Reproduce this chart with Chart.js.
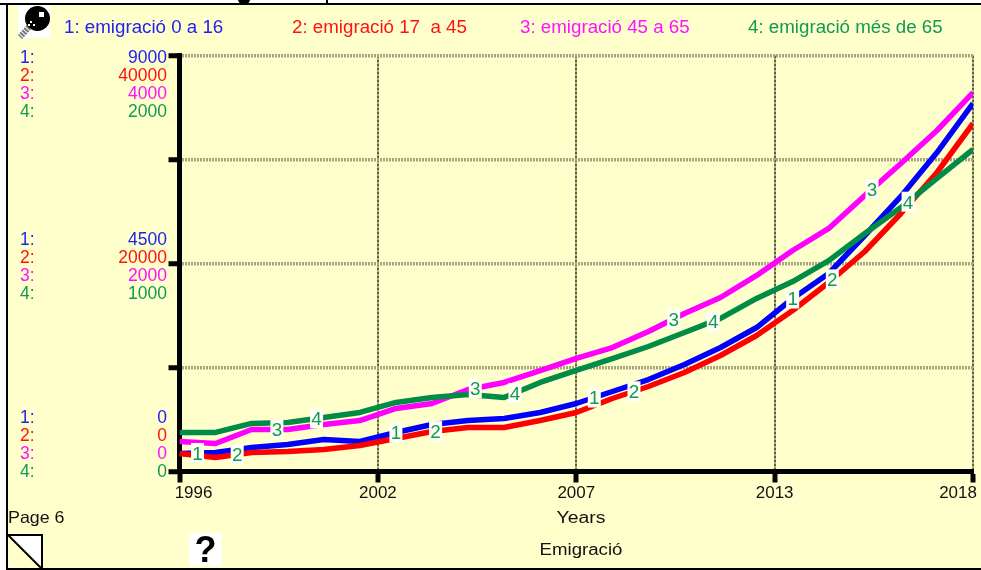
<!DOCTYPE html>
<html><head><meta charset="utf-8">
<style>html,body{margin:0;padding:0;background:#fff}canvas{display:block}</style>
<script src="https://cdn.jsdelivr.net/npm/chart.js@4"></script>
</head><body><div style="width:981px;height:570px"><canvas id="c" width="981" height="570"></canvas></div>
<script>
const years=[1996,1997,1998,1999,2000,2001,2002,2003,2004,2005,2006,2007,2008,2009,2010,2011,2012,2013,2014,2015,2016,2017,2018];
const emig0a16=[389,411,519,584,692,649,844,1017,1103,1147,1276,1471,1731,1990,2315,2683,3115,3743,4284,5106,5950,6901,7962];
const emig17a45=[1731,1346,1827,1923,2115,2500,3173,3846,4231,4231,4904,5673,7019,8173,9519,11154,13077,15481,18173,21154,24808,28750,33462];
const emig45a65=[288,269,404,404,452,490,606,654,788,856,971,1087,1192,1346,1519,1673,1885,2125,2337,2654,2962,3279,3644];
const emigMes65=[188,188,231,236,260,284,332,356,370,356,428,486,543,601,668,736,832,913,1014,1144,1269,1409,1548];
const seriesNames=['1: emigració 0 a 16','2: emigració 17  a 45','3: emigració 45 a 65','4: emigració més de 65'];
const seriesColors=['#0000FF','#FF0000','#FF00FF','#008C46'];
const textColors=['#2222EE','#FF1111','#FF11FF','#119955'];
const axisMax=[9000,40000,4000,2000];
const axisTop=['9000','40000','4000','2000'];
const axisMid=['4500','20000','2000','1000'];
const axisLow=['0','0','0','0'];
const xTickValues=[1996,2001.5,2007,2012.5,2018];
const xTickLabels=['1996','2002','2007','2013','2018'];
const labelYears=[[1996.5,2002,2007.5,2013],[1997.6,2003.1,2008.6,2014.1],[1998.7,2004.2,2009.7,2015.2],[1999.8,2005.3,2010.8,2016.2]];
const BG='#FFFFCC';
const F='"Liberation Sans", Arial, sans-serif';
function T(c,text,x,y,align,sx,size){
  c.save();c.font=(size||16)+'px '+F;c.textAlign=align;c.textBaseline='middle';
  c.translate(x,y);c.scale(sx,1);c.fillText(text,0,0);c.restore();
}
const deco={id:'deco',
 beforeDraw(ch){const c=ch.ctx;c.save();
  c.fillStyle='#fff';c.fillRect(0,0,981,570);
  c.fillStyle=BG;c.fillRect(7,4,974,565);
  c.fillStyle='#000';c.fillRect(0,3,981,2);c.fillRect(6,3,2,567);c.fillRect(6,568,975,2);
  c.beginPath();c.arc(244,-1,6,0,Math.PI);c.fill();c.fillRect(326,0,2,4);
  c.fillStyle='#fff';c.fillRect(18,5,32,33);
  c.strokeStyle='#777';c.lineWidth=6;c.setLineDash([2,1]);c.beginPath();c.moveTo(29,27);c.lineTo(20,37);c.stroke();c.setLineDash([]);
  c.fillStyle='#000';c.beginPath();c.arc(37.5,18.5,12.5,0,7);c.fill();
  c.fillStyle='#fff';c.fillRect(39,12,5,5);c.fillRect(30,21,2,2);c.fillRect(33,24,2,2);c.fillRect(28,24,2,2);
  c.fillStyle='#fff';c.fillRect(189,533,33,33);
  c.beginPath();c.moveTo(8,535);c.lineTo(42,535);c.lineTo(42,569);c.closePath();c.fill();
  c.strokeStyle='#000';c.lineWidth=2;c.beginPath();c.moveTo(8,535);c.lineTo(42,535);c.lineTo(42,569);c.moveTo(8,535);c.lineTo(42,569);c.stroke();
  c.restore();
 },
 afterDatasetsDraw(ch){const c=ch.ctx;c.save();
  labelYears.forEach((ys,si)=>{
    const vals=ch.data.datasets[si].data, sc=ch.scales['y'+(si+1)], xs=ch.scales.x;
    ys.forEach(yr=>{
      const k=Math.min(Math.floor(yr-1996),21), f=yr-1996-k;
      const py=sc.getPixelForValue(vals[k].y*(1-f)+vals[k+1].y*f), px=xs.getPixelForValue(yr);
      c.fillStyle='#FFFFF4';c.fillRect(px-6.5,py-10,13,20);
      c.fillStyle='#119955';T(c,String(si+1),px,py+2,'center',1.05,18);
    });
  });
  c.restore();
 },
 afterDraw(ch){const c=ch.ctx;c.save();
  const x=ch.scales.x, y1=ch.scales.y1;
  const lx=[64,292,520,748];
  seriesNames.forEach((s,i)=>{c.fillStyle=textColors[i];T(c,s,lx[i],28.5,'left',1.07,17.5);});
  const blocks=[[axisTop,y1.getPixelForValue(9000)+3],[axisMid,y1.getPixelForValue(4500)-23],[axisLow,y1.getPixelForValue(0)-53]];
  blocks.forEach(([arr,py])=>{arr.forEach((t,i)=>{
    c.fillStyle=textColors[i];
    T(c,(i+1)+':',20,py+18*i,'left',1.0,17.5);
    T(c,t,167,py+18*i,'right',1.0,17.5);
  });});
  c.fillStyle='#111';
  xTickValues.forEach((v,i)=>{
    const px=x.getPixelForValue(v);
    const cx=i===0?px+14:(i===4?px-15:px);
    T(c,xTickLabels[i],cx,494,'center',1.06);
  });
  T(c,'Years',581,518.5,'center',1.21);T(c,'Emigració',581,550.5,'center',1.165);
  T(c,'Page 6',8,518,'left',1.08,16.5);
  c.fillStyle='#000';c.font='bold 36px '+F;c.textAlign='center';c.textBaseline='middle';c.fillText('?',205.5,552);
  c.restore();
 }};
const seriesData=[emig0a16,emig17a45,emig45a65,emigMes65];
const hiddenY=i=>({type:'linear',display:false,min:0,max:axisMax[i]});
new Chart(document.getElementById('c'),{
 type:'line',
 data:{datasets:seriesData.map((d,i)=>({label:seriesNames[i],data:d.map((v,k)=>({x:years[k],y:v})),
   yAxisID:'y'+(i+1),borderColor:seriesColors[i],backgroundColor:seriesColors[i],borderWidth:5.5,pointRadius:0,tension:0,fill:false,order:4-i,borderCapStyle:'butt',borderJoinStyle:'round'}))},
 plugins:[deco],
 options:{responsive:false,animation:false,
  layout:{padding:{top:55.5,right:8,left:0,bottom:0}},
  plugins:{legend:{display:false},tooltip:{enabled:false},title:{display:false}},
  scales:{
   x:{type:'linear',position:'bottom',min:1996,max:2018,
      afterBuildTicks(s){s.ticks=xTickValues.map(v=>({value:v}));},
      afterFit(s){s.height=98.5;},
      ticks:{display:false},
      grid:{color:'#5F5F45',lineWidth:2,tickColor:'#000',tickWidth:5,tickLength:11,tickBorderDash:[]},
      border:{color:'#000',width:5,dash:[3,1]}},
   y1:{type:'linear',position:'left',min:0,max:axisMax[0],
      afterBuildTicks(s){s.ticks=[0,2250,4500,6750,9000].map(v=>({value:v}));},
      afterFit(s){s.width=179.5;},
      ticks:{display:false},
      grid:{color:'#A8A680',lineWidth:3.5,tickColor:'#000',tickWidth:5,tickLength:11,tickBorderDash:[]},
      border:{color:'#000',width:5,dash:[2,1]}},
   y2:hiddenY(1),y3:hiddenY(2),y4:hiddenY(3)
  }}
});
</script></body></html>
